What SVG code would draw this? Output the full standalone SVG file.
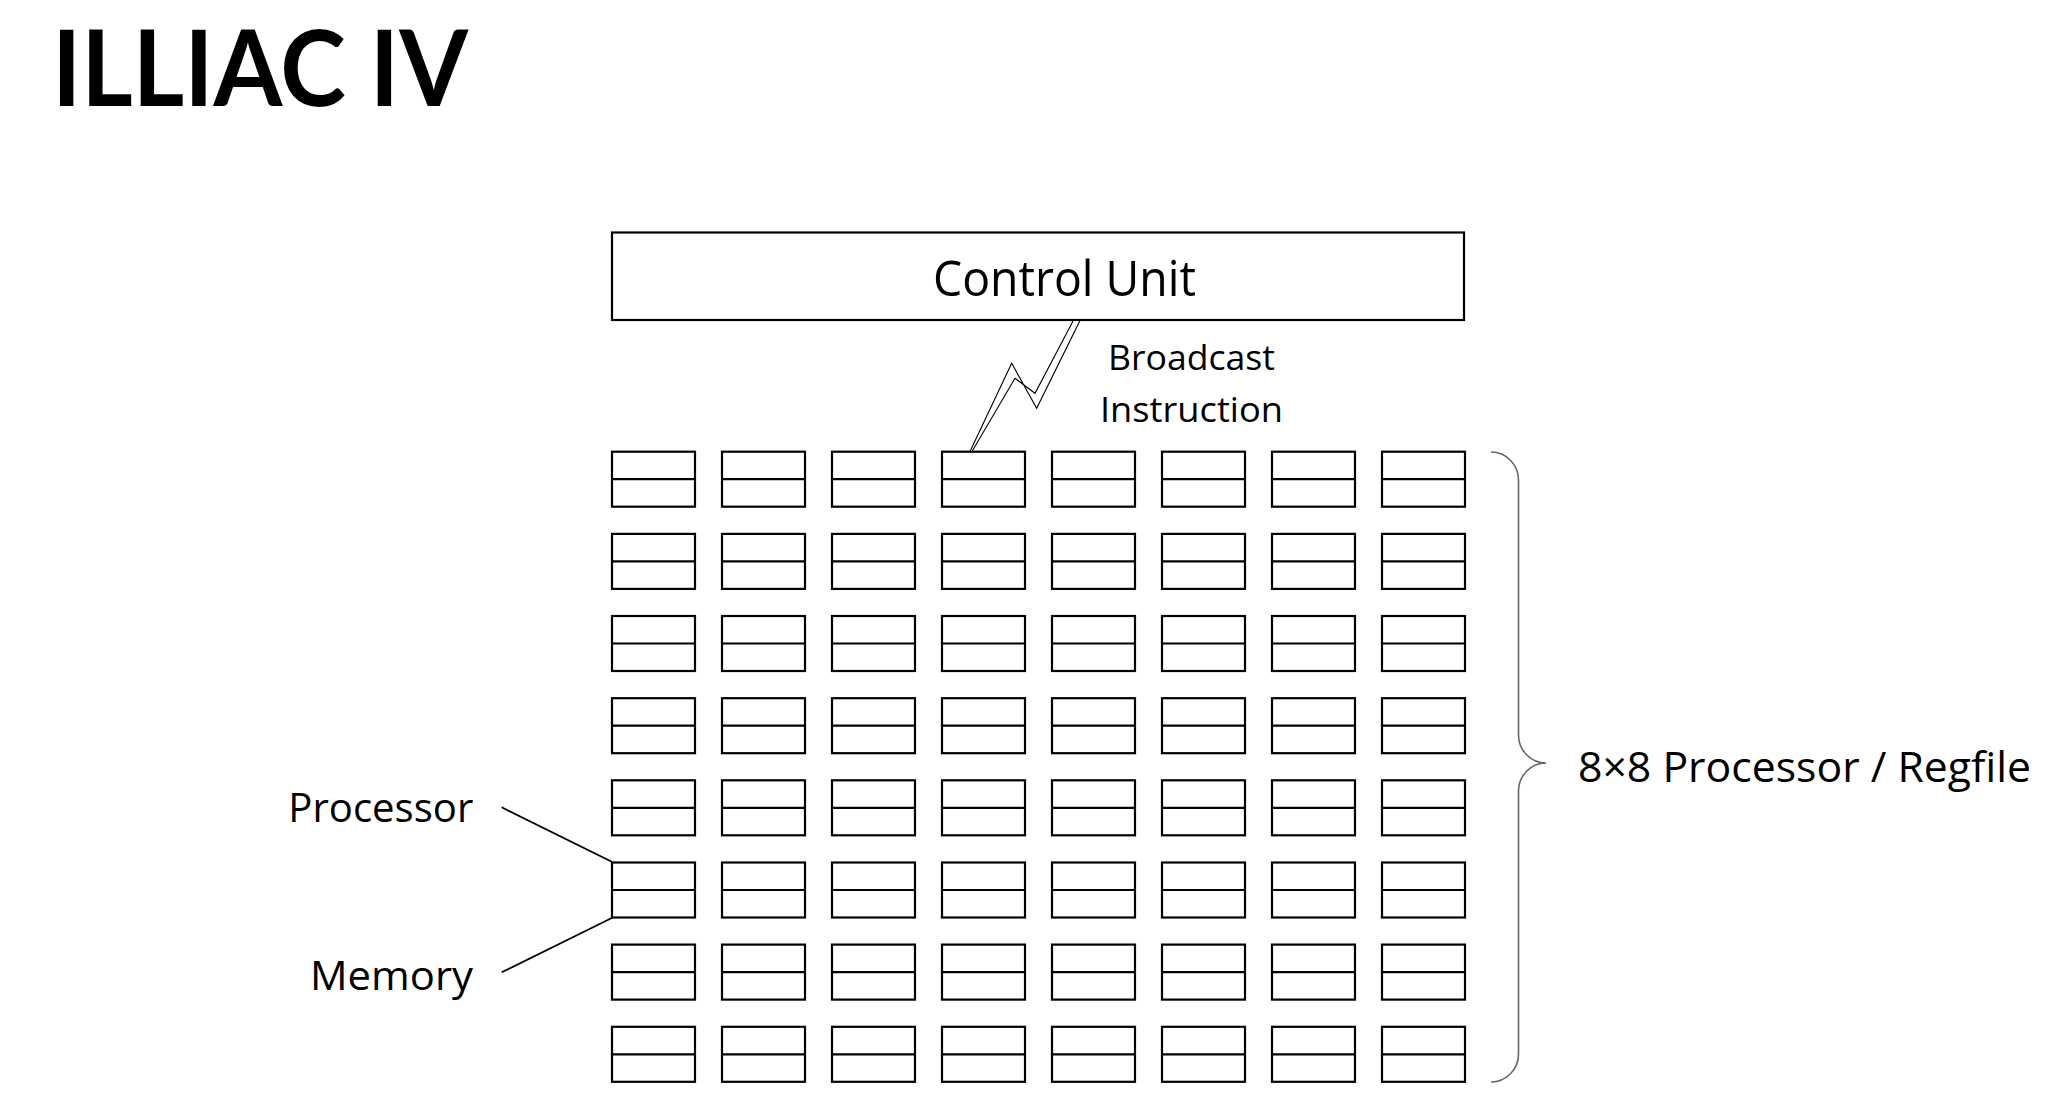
<svg xmlns="http://www.w3.org/2000/svg" xmlns:xlink="http://www.w3.org/1999/xlink" width="2069" height="1118" viewBox="0 0 2069 1118">
<style>
.t{font-family:"Open Sans","Noto Sans","Liberation Sans",sans-serif;fill:#000}
.title{font-family:Lato,"Open Sans","Liberation Sans",sans-serif;font-weight:700;fill:#000}
.box{fill:#fff;stroke:#000;stroke-width:2.2}
.ln{stroke:#000;stroke-width:2.2;fill:none}
.lead{stroke:#000;stroke-width:1.8;fill:none}
.brace{stroke:#666;stroke-width:1.6;fill:none}
</style>
<defs>
<g id="cell"><rect class="box" x="0" y="0" width="83" height="55"/><line class="ln" x1="0" y1="27.5" x2="83" y2="27.5"/></g>
</defs>
<rect x="0" y="0" width="2069" height="1118" fill="#fff"/>
<text class="title" x="52" y="106" font-size="105" textLength="416" lengthAdjust="spacingAndGlyphs">ILLIAC IV</text>
<g id="control-unit">
<rect class="box" x="612" y="232.5" width="852" height="87.5"/>
<text class="t" x="933" y="295.5" font-size="50" textLength="263" lengthAdjust="spacingAndGlyphs">Control Unit</text>
</g>
<g id="grid">
<g id="pe-0-0"><use href="#cell" x="612" y="451.7"/></g><g id="pe-0-1"><use href="#cell" x="722" y="451.7"/></g><g id="pe-0-2"><use href="#cell" x="832" y="451.7"/></g><g id="pe-0-3"><use href="#cell" x="942" y="451.7"/></g><g id="pe-0-4"><use href="#cell" x="1052" y="451.7"/></g><g id="pe-0-5"><use href="#cell" x="1162" y="451.7"/></g><g id="pe-0-6"><use href="#cell" x="1272" y="451.7"/></g><g id="pe-0-7"><use href="#cell" x="1382" y="451.7"/></g>
<g id="pe-1-0"><use href="#cell" x="612" y="533.9"/></g><g id="pe-1-1"><use href="#cell" x="722" y="533.9"/></g><g id="pe-1-2"><use href="#cell" x="832" y="533.9"/></g><g id="pe-1-3"><use href="#cell" x="942" y="533.9"/></g><g id="pe-1-4"><use href="#cell" x="1052" y="533.9"/></g><g id="pe-1-5"><use href="#cell" x="1162" y="533.9"/></g><g id="pe-1-6"><use href="#cell" x="1272" y="533.9"/></g><g id="pe-1-7"><use href="#cell" x="1382" y="533.9"/></g>
<g id="pe-2-0"><use href="#cell" x="612" y="616"/></g><g id="pe-2-1"><use href="#cell" x="722" y="616"/></g><g id="pe-2-2"><use href="#cell" x="832" y="616"/></g><g id="pe-2-3"><use href="#cell" x="942" y="616"/></g><g id="pe-2-4"><use href="#cell" x="1052" y="616"/></g><g id="pe-2-5"><use href="#cell" x="1162" y="616"/></g><g id="pe-2-6"><use href="#cell" x="1272" y="616"/></g><g id="pe-2-7"><use href="#cell" x="1382" y="616"/></g>
<g id="pe-3-0"><use href="#cell" x="612" y="698.2"/></g><g id="pe-3-1"><use href="#cell" x="722" y="698.2"/></g><g id="pe-3-2"><use href="#cell" x="832" y="698.2"/></g><g id="pe-3-3"><use href="#cell" x="942" y="698.2"/></g><g id="pe-3-4"><use href="#cell" x="1052" y="698.2"/></g><g id="pe-3-5"><use href="#cell" x="1162" y="698.2"/></g><g id="pe-3-6"><use href="#cell" x="1272" y="698.2"/></g><g id="pe-3-7"><use href="#cell" x="1382" y="698.2"/></g>
<g id="pe-4-0"><use href="#cell" x="612" y="780.3"/></g><g id="pe-4-1"><use href="#cell" x="722" y="780.3"/></g><g id="pe-4-2"><use href="#cell" x="832" y="780.3"/></g><g id="pe-4-3"><use href="#cell" x="942" y="780.3"/></g><g id="pe-4-4"><use href="#cell" x="1052" y="780.3"/></g><g id="pe-4-5"><use href="#cell" x="1162" y="780.3"/></g><g id="pe-4-6"><use href="#cell" x="1272" y="780.3"/></g><g id="pe-4-7"><use href="#cell" x="1382" y="780.3"/></g>
<g id="pe-5-0"><use href="#cell" x="612" y="862.5"/></g><g id="pe-5-1"><use href="#cell" x="722" y="862.5"/></g><g id="pe-5-2"><use href="#cell" x="832" y="862.5"/></g><g id="pe-5-3"><use href="#cell" x="942" y="862.5"/></g><g id="pe-5-4"><use href="#cell" x="1052" y="862.5"/></g><g id="pe-5-5"><use href="#cell" x="1162" y="862.5"/></g><g id="pe-5-6"><use href="#cell" x="1272" y="862.5"/></g><g id="pe-5-7"><use href="#cell" x="1382" y="862.5"/></g>
<g id="pe-6-0"><use href="#cell" x="612" y="944.6"/></g><g id="pe-6-1"><use href="#cell" x="722" y="944.6"/></g><g id="pe-6-2"><use href="#cell" x="832" y="944.6"/></g><g id="pe-6-3"><use href="#cell" x="942" y="944.6"/></g><g id="pe-6-4"><use href="#cell" x="1052" y="944.6"/></g><g id="pe-6-5"><use href="#cell" x="1162" y="944.6"/></g><g id="pe-6-6"><use href="#cell" x="1272" y="944.6"/></g><g id="pe-6-7"><use href="#cell" x="1382" y="944.6"/></g>
<g id="pe-7-0"><use href="#cell" x="612" y="1026.8"/></g><g id="pe-7-1"><use href="#cell" x="722" y="1026.8"/></g><g id="pe-7-2"><use href="#cell" x="832" y="1026.8"/></g><g id="pe-7-3"><use href="#cell" x="942" y="1026.8"/></g><g id="pe-7-4"><use href="#cell" x="1052" y="1026.8"/></g><g id="pe-7-5"><use href="#cell" x="1162" y="1026.8"/></g><g id="pe-7-6"><use href="#cell" x="1272" y="1026.8"/></g><g id="pe-7-7"><use href="#cell" x="1382" y="1026.8"/></g>
</g>
<g id="connectors">
<polygon points="970,451.5 1011.7,363.3 1036.7,408.3 1080,320.5 1073.3,320.5 1035,393.3 1015,378.3 972,451.5" fill="#fff" stroke="#000" stroke-width="1.1" stroke-linejoin="miter"/>
<line class="lead" x1="501.7" y1="807.3" x2="612.3" y2="862"/>
<line class="lead" x1="501.7" y1="972.3" x2="612.3" y2="917.7"/>
<path class="brace" d="M1491,452 A27.5,28 0 0 1 1518.5,480 L1518.5,735 A27.5,28 0 0 0 1546,763 A27.5,28 0 0 0 1518.5,791 L1518.5,1054 A27.5,28 0 0 1 1491,1082"/>
</g>
<g id="labels">
<text class="t" x="1191.5" y="370" font-size="34" text-anchor="middle" textLength="167" lengthAdjust="spacingAndGlyphs">Broadcast</text>
<text class="t" x="1191.5" y="421.7" font-size="34" text-anchor="middle" textLength="183" lengthAdjust="spacingAndGlyphs">Instruction</text>
<text class="t" x="288.3" y="821.7" font-size="40" textLength="185" lengthAdjust="spacingAndGlyphs">Processor</text>
<text class="t" x="310" y="990" font-size="40" textLength="163" lengthAdjust="spacingAndGlyphs">Memory</text>
<text class="t" x="1578" y="782" font-size="42" textLength="453" lengthAdjust="spacingAndGlyphs">8×8 Processor / Regfile</text>
</g>
</svg>
